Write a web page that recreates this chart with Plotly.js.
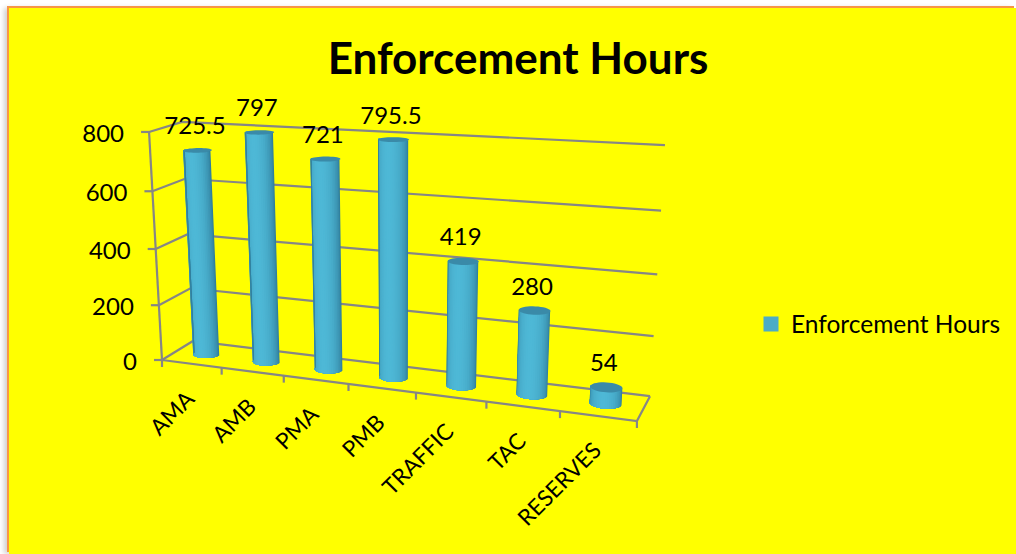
<!DOCTYPE html>
<html><head><meta charset="utf-8">
<script src="https://cdn.plot.ly/plotly-3.0.1.min.js"></script>
<style>
html,body{margin:0;padding:0;background:#fff;overflow:hidden}
#chart{position:absolute;left:9px;top:8px;width:1007px;height:546px;box-shadow:-2px -2px 0 0 #f79646,-5px 0 5px 0 #d0d0d0}
</style></head><body><div id="chart"></div>
<script>
// ---- data ----
const categories = ["AMA","AMB","PMA","PMB","TRAFFIC","TAC","RESERVES"];
const hours = [725.5,797,721,795.5,419,280,54];
const hourLabels = ["725.5","797","721","795.5","419","280","54"];
const tickValues = [0,200,400,600,800];
const seriesName = "Enforcement Hours";
const AXIS_MAX = 800;

// ---- perspective scale of the 3-D box (slot u, depth d, hours v) -> plot axes ----
const FONT = "Lato, 'Open Sans', sans-serif";
const PX_PER_SLOT = 60, PX_PER_HOUR = 0.285, X0 = 162, Y0 = 360;
function project(u,d,v){
  const t = v/AXIS_MAX;
  const w = 1 - 0.0197*u + 0.0431*d - 0.0513*t;
  const px = (162 + 55.3*u + 39.3*d - 20.6*t)/w;
  const py = (360 + 0.42*u - 4.3*d - 234.8*t)/w;
  return [(px-X0)/PX_PER_SLOT, (Y0-py)/PX_PER_HOUR];
}
const dx = px => px/PX_PER_SLOT, dy = px => px/PX_PER_HOUR;
const GRID = "#868686";
const traces = [];
const n = categories.length;

function segs(list){ // list of point lists -> x,y with gaps
  const x=[],y=[];
  list.forEach(pts=>{pts.forEach(p=>{x.push(p[0]);y.push(p[1]);});x.push(null);y.push(null);});
  return {x,y};
}
// wall, floor and tick lines
const lines = [];
tickValues.forEach(v=>{
  lines.push([project(0,0,v),project(0,1,v),project(n,1,v)]);
  const p=project(0,0,v);
  lines.push([[p[0]-dx(8),p[1]],p]);
});
lines.push([project(0,0,0),project(0,0,AXIS_MAX)]);
lines.push([project(0,0,0),project(n,0,0),project(n,1,0)]);
for(let i=0;i<=n;i++){const p=project(i,0,0);lines.push([p,[p[0],p[1]-dy(7)]]);}
const ln = segs(lines);
traces.push({type:"scatter",mode:"lines",x:ln.x,y:ln.y,line:{color:GRID,width:2.2},showlegend:false,hoverinfo:"skip"});

// cylinders: painted back-to-front so each shade band overlaps the next, then the top cap
const RU=0.21, RD=0.2, STRIPS=24;
function mix(a,b,f){return a.map((c,i)=>Math.round(c+(b[i]-c)*f));}
for(let k=0;k<STRIPS;k++){
  const a0=Math.PI*k/STRIPS, am=Math.PI*(k+0.5)/STRIPS;
  const shade=Math.pow(Math.sin(am),0.8);
  const col=mix([44,118,148],[78,184,214],shade);
  const css=`rgb(${col.join(",")})`;
  const polys=hours.map((v,i)=>{
    const c=i+0.5, pts=[];
    const pt=(a,h)=>project(c+RU*Math.cos(a),0.5-RD*Math.sin(a),h);
    for(let j=k;j<=STRIPS;j++) pts.push(pt(Math.PI*j/STRIPS,0));
    pts.push(pt(Math.PI,v)); pts.push(pt(a0,v)); pts.push(pt(a0,0));
    return pts;
  });
  const s=segs(polys);
  traces.push({type:"scatter",mode:"none",x:s.x,y:s.y,fill:"toself",fillcolor:css,showlegend:false,hoverinfo:"skip"});
}
const caps=hours.map((v,i)=>{
  const pts=[];
  for(let a=0;a<=36;a++){const th=a/36*2*Math.PI;pts.push(project(i+0.5+RU*Math.cos(th),0.5+RD*Math.sin(th),v));}
  return pts;
});
const cp=segs(caps);
traces.push({type:"scatter",mode:"none",x:cp.x,y:cp.y,fill:"toself",fillcolor:"#3a8aa8",showlegend:false,hoverinfo:"skip"});

// y tick labels
const tickPts=tickValues.map(v=>project(0,0,v));
traces.push({type:"scatter",mode:"text",x:tickPts.map(p=>p[0]-dx(25)),y:tickPts.map(p=>p[1]-dy(4)),
  text:tickValues.map(String),textposition:"middle left",textfont:{family:FONT,size:24,color:"#000"},showlegend:false,hoverinfo:"skip"});
// data labels
const topPts=hours.map((v,i)=>project(i+0.5,0.5,v));
traces.push({type:"scatter",mode:"text",x:topPts.map(p=>p[0]-dx(2.5)),y:topPts.map(p=>p[1]+dy(22)),
  text:hourLabels,textposition:"middle center",textfont:{family:FONT,size:24,color:"#000"},showlegend:false,hoverinfo:"skip"});
// legend entry
traces.push({type:"scatter",mode:"markers",x:[null],y:[null],name:seriesName,marker:{symbol:"square",size:15,color:"#4bacc6"},showlegend:true,hoverinfo:"skip"});

// category labels
const annotations=categories.map((c,i)=>{
  const p=project(i+0.5,0,0);
  return {x:p[0],y:p[1],xref:"x",yref:"y",text:c,showarrow:false,textangle:-45,xanchor:"right",yanchor:"top",
    xshift:11,yshift:-18,font:{family:FONT,size:22.5,color:"#000"}};
});

const layout={
  width:1007,height:546,margin:{l:0,r:0,t:0,b:0,pad:0},
  paper_bgcolor:"#ffff00",plot_bgcolor:"rgba(0,0,0,0)",
  title:{text:"<b>"+seriesName+"</b>",x:(518-9)/1007,xanchor:"center",y:1-(59-8)/546,yanchor:"middle",font:{family:FONT,size:44,color:"#000"}},
  xaxis:{visible:false,range:[(9-X0)/PX_PER_SLOT,(1016-X0)/PX_PER_SLOT],fixedrange:true},
  yaxis:{visible:false,range:[(Y0-554)/PX_PER_HOUR,(Y0-8)/PX_PER_HOUR],fixedrange:true},
  legend:{x:(751-9)/1007,y:1-(324-8)/546,xanchor:"left",yanchor:"middle",bgcolor:"rgba(0,0,0,0)",font:{family:FONT,size:24.5,color:"#000"},itemsizing:"trace",itemwidth:30},
  annotations,showlegend:true,hovermode:false
};
Plotly.newPlot("chart",traces,layout,{displayModeBar:false,staticPlot:true});
</script></body></html>
